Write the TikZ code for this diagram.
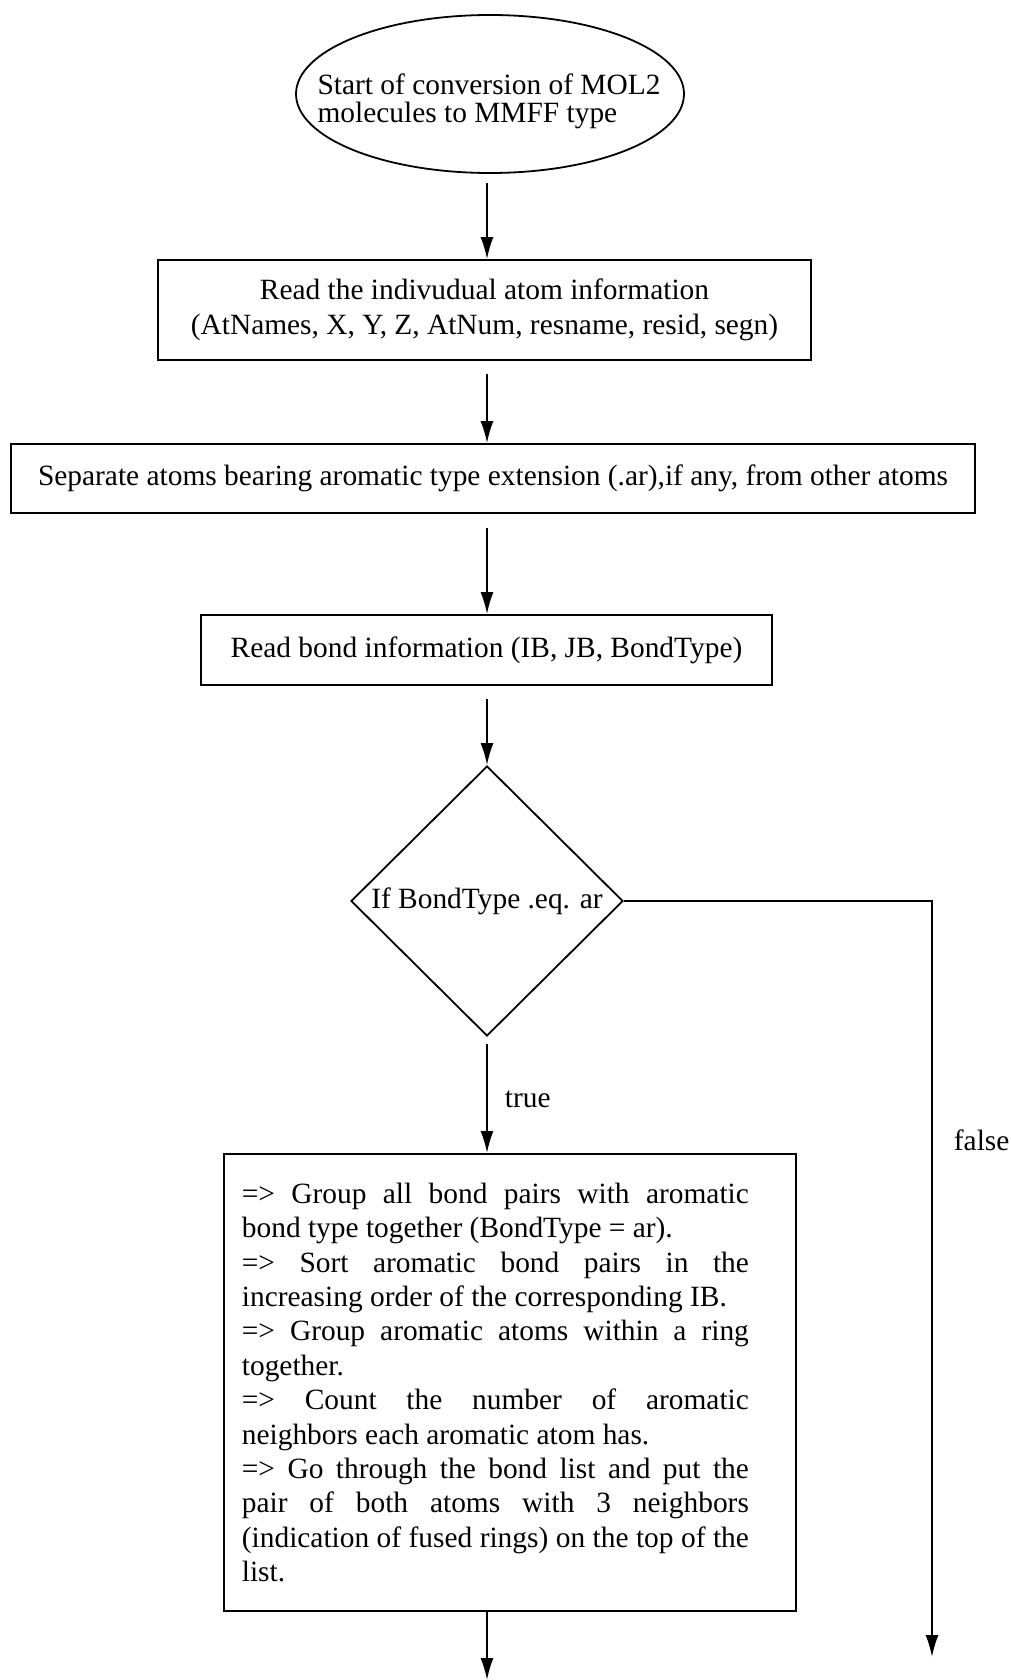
\documentclass[tikz,border=0pt]{standalone}
\usepackage{fontspec}
\setmainfont{Liberation Serif}
\usetikzlibrary{shapes.geometric,arrows.meta}
\begin{document}
\begin{tikzpicture}[x=1pt,y=-1pt, line width=1.8pt,
  every node/.style={font=\fontsize{29.4}{34.4}\selectfont},
  procbox/.style={draw, rectangle, inner sep=0pt, align=center},
  arr/.style={-{Latex[length=22pt,width=13pt]}},
]
\useasboundingbox (0,0) rectangle (1010,1680);
\coordinate (ax) at (487,0);
\node[draw, ellipse, minimum width=388pt, minimum height=158pt, inner sep=0pt] (start) at (490,94) {};
\node[align=left, inner sep=0pt, font=\fontsize{29.4}{28}\selectfont] (starttxt) at (489,101) {Start of conversion of MOL2\\molecules to MMFF type};
\node[procbox, minimum width=653pt, minimum height=100pt] (read) at (484.5,310) {Read the indivudual atom information\\(AtNames, X, Y, Z, AtNum, resname, resid, segn)};
\node[procbox, minimum width=964pt, minimum height=69pt] (sep) at (493,478.5) {Separate atoms bearing aromatic type extension (.ar),if any, from other atoms};
\node[procbox, minimum width=571pt, minimum height=70pt] (bond) at (486.5,650) {Read bond information (IB, JB, BondType)};
\node[draw, diamond, minimum width=272pt, minimum height=270pt, inner sep=0pt] (cond) at (487,901) {If BondType .eq. ar};
\node[draw, rectangle, inner xsep=18pt, inner ysep=0pt, minimum height=457pt, anchor=north west] (group) at (223,1153) {\parbox{507pt}{%
=> Group all bond pairs with aromatic\linebreak
bond type together (BondType = ar).\\
=> Sort aromatic bond pairs in the\linebreak
increasing order of the corresponding IB.\\
=> Group aromatic atoms within a ring\linebreak
together.\\
=> Count the number of aromatic\linebreak
neighbors each aromatic atom has.\\
=> Go through the bond list and put the\linebreak
pair of both atoms with 3 neighbors\linebreak
(indication of fused rings) on the top of the\linebreak
list.}\hspace*{29pt}};
\node[anchor=base west, inner sep=0pt] (truelbl) at (504,1107) {true};
\node[anchor=base west, inner sep=0pt] (falselbl) at (953,1150) {false};
\draw[arr, shorten <=9pt] (start.south -| ax) -- (read.north -| ax);
\draw[arr, shorten <=13pt] (read.south -| ax) -- (sep.north -| ax);
\draw[arr, shorten <=14pt] (sep.south -| ax) -- (bond.north -| ax);
\draw[arr, shorten <=13pt] (bond.south -| ax) -- (cond.north);
\draw[arr, shorten <=7pt] (cond.south) -- (group.north -| ax);
\coordinate (fend) at (932,1657);
\draw[arr] (cond.east) -| (fend);
\coordinate (bend) at (487,1680);
\draw[arr] (group.south -| ax) -- (bend);
\end{tikzpicture}
\end{document}
